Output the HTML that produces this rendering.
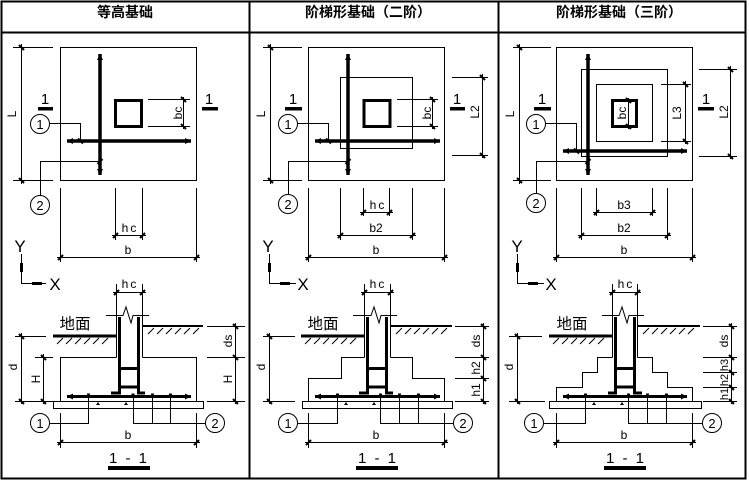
<!DOCTYPE html>
<html><head><meta charset="utf-8"><style>
html,body{margin:0;padding:0;background:#fff;}
svg{display:block;}
text{font-family:"Liberation Sans","Noto Sans CJK SC",sans-serif;fill:#000;}
.h{font-size:14px;font-weight:bold;}
.l{font-size:12px;}
.n{font-size:13px;}
.s{font-size:15px;}
</style></head><body>
<svg width="749" height="482" viewBox="0 0 749 482" xmlns="http://www.w3.org/2000/svg">
<defs>
<marker id="tk" viewBox="-4 -4 8 8" markerWidth="8" markerHeight="8" markerUnits="userSpaceOnUse" orient="auto"><path d="M-2.5,2.5 L2.5,-2.5" stroke="#000" stroke-width="2"/></marker>
<marker id="ah" viewBox="-7 -4 8 8" markerWidth="8" markerHeight="8" markerUnits="userSpaceOnUse" orient="auto-start-reverse"><path d="M0,0 L-6,-3 L-6,3 Z" fill="#000"/></marker>
</defs>
<g fill="none" stroke="#000" stroke-width="1">
<!-- frame -->
<rect x="1.5" y="1.5" width="744" height="477" stroke-width="2"/>
<line x1="1" y1="32.5" x2="746" y2="32.5" stroke-width="2"/>
<line x1="249.5" y1="1" x2="249.5" y2="479" stroke-width="2"/>
<line x1="498.5" y1="1" x2="498.5" y2="479" stroke-width="2"/>

<!-- ===== PANEL 1 ===== -->
<rect x="60.5" y="47.5" width="136" height="133"/>
<line x1="13" y1="47.5" x2="53" y2="47.5"/><line x1="13" y1="180.5" x2="53" y2="180.5"/>
<line x1="21.5" y1="44" x2="21.5" y2="184"/>
<path d="M21.5,47.5 v0.01" marker-end="url(#tk)"/><path d="M21.5,180.5 v0.01" marker-end="url(#tk)"/>
<rect x="115.5" y="100.5" width="26" height="26" stroke-width="3"/>
<line x1="148" y1="99.5" x2="190" y2="99.5"/><line x1="148" y1="126.5" x2="190" y2="126.5"/>
<line x1="183.5" y1="97" x2="183.5" y2="129"/>
<path d="M183.5,99.5 v0.01" marker-end="url(#tk)"/><path d="M183.5,126.5 v0.01" marker-end="url(#tk)"/>
<line x1="67" y1="141" x2="191" y2="141" stroke-width="3.5" marker-start="url(#ah)" marker-end="url(#ah)"/>
<line x1="100" y1="54" x2="100" y2="175" stroke-width="3.5" marker-start="url(#ah)" marker-end="url(#ah)"/>
<circle cx="40" cy="124" r="9.5"/>
<polyline points="50,123.5 80.5,123.5 80.5,142"/><path d="M80.5,141 v0.01" marker-end="url(#tk)"/>
<circle cx="40" cy="205" r="9.5"/>
<polyline points="40.5,195.5 40.5,161.5 100,161.5"/><path d="M100,161.5 h0.01" marker-end="url(#tk)"/>
<line x1="60.5" y1="188" x2="60.5" y2="262"/><line x1="196.5" y1="188" x2="196.5" y2="262"/>
<line x1="115.5" y1="188" x2="115.5" y2="240"/><line x1="142.5" y1="188" x2="142.5" y2="240"/>
<line x1="112" y1="235.5" x2="146" y2="235.5"/>
<path d="M115.5,235.5 h0.01" marker-end="url(#tk)"/><path d="M142.5,235.5 h0.01" marker-end="url(#tk)"/>
<line x1="57" y1="257.5" x2="200" y2="257.5"/>
<path d="M60.5,257.5 h0.01" marker-end="url(#tk)"/><path d="M196.5,257.5 h0.01" marker-end="url(#tk)"/>
<!-- axis -->
<line x1="21.5" y1="254" x2="21.5" y2="283.5"/><line x1="21" y1="283.5" x2="46" y2="283.5"/>
<!-- section -->
<line x1="116.5" y1="284" x2="116.5" y2="315"/><line x1="142.5" y1="284" x2="142.5" y2="315"/>
<line x1="113" y1="292.5" x2="146" y2="292.5"/>
<path d="M116.5,292.5 h0.01" marker-end="url(#tk)"/><path d="M142.5,292.5 h0.01" marker-end="url(#tk)"/>
<polyline points="106,315.5 123,315.5 126,307 131,323 133,315.5 149,315.5"/>
<line x1="116.5" y1="316" x2="116.5" y2="357.5"/><line x1="142.5" y1="316" x2="142.5" y2="357.5"/>
<path d="M111,393 H119.5 V317 M145,393 H138.5 V317 M119,368.5 H139 M119,387 H139" stroke-width="3"/>
<line x1="53" y1="336" x2="116" y2="336" stroke-width="3"/>
<path d="M57,344 l6,-6 M66,344 l6,-6 M75,344 l6,-6 M84,344 l6,-6 M93,344 l6,-6 M102,344 l6,-6"/>
<line x1="143" y1="326" x2="203" y2="326" stroke-width="2"/>
<path d="M148,334 l6,-6 M157,334 l6,-6 M166,334 l6,-6 M175,334 l6,-6 M184,334 l6,-6 M193,334 l6,-6"/>
<path d="M116.5,357.5 H60.5 V401 M142.5,357.5 H196.5 V401"/>
<rect x="53.5" y="401.5" width="150" height="7"/>
<line x1="67" y1="396.5" x2="191" y2="396.5" stroke-width="3" marker-start="url(#ah)" marker-end="url(#ah)"/>
<circle cx="40" cy="423" r="9.5"/>
<polyline points="50,423.5 88.5,423.5 88.5,397"/>
<circle cx="215" cy="423" r="9.5"/>
<path d="M205,423.5 H133.5 V397 M152.5,423.5 V397 M170.5,423.5 V397"/>
<line x1="15" y1="336.5" x2="46" y2="336.5"/><line x1="15" y1="401.5" x2="53" y2="401.5"/>
<line x1="35" y1="357.5" x2="53" y2="357.5"/>
<line x1="21.5" y1="333" x2="21.5" y2="404"/>
<path d="M21.5,336.5 v0.01" marker-end="url(#tk)"/><path d="M21.5,401.5 v0.01" marker-end="url(#tk)"/>
<line x1="43.5" y1="354" x2="43.5" y2="404"/>
<path d="M43.5,357.5 v0.01" marker-end="url(#tk)"/><path d="M43.5,401.5 v0.01" marker-end="url(#tk)"/>
<line x1="207" y1="326.5" x2="245" y2="326.5"/><line x1="207" y1="357.5" x2="245" y2="357.5"/><line x1="207" y1="401.5" x2="245" y2="401.5"/>
<line x1="235.5" y1="323" x2="235.5" y2="404"/>
<path d="M235.5,326.5 v0.01" marker-end="url(#tk)"/><path d="M235.5,357.5 v0.01" marker-end="url(#tk)"/><path d="M235.5,401.5 v0.01" marker-end="url(#tk)"/>
<line x1="60.5" y1="413" x2="60.5" y2="448"/><line x1="196.5" y1="413" x2="196.5" y2="448"/>
<line x1="57" y1="442.5" x2="200" y2="442.5"/>
<path d="M60.5,442.5 h0.01" marker-end="url(#tk)"/><path d="M196.5,442.5 h0.01" marker-end="url(#tk)"/>

<!-- ===== PANEL 2 ===== -->
<rect x="308.5" y="47.5" width="136" height="133"/>
<rect x="340.5" y="77.5" width="72" height="71"/>
<line x1="263" y1="47.5" x2="302" y2="47.5"/><line x1="263" y1="180.5" x2="302" y2="180.5"/>
<line x1="270.5" y1="44" x2="270.5" y2="184"/>
<path d="M270.5,47.5 v0.01" marker-end="url(#tk)"/><path d="M270.5,180.5 v0.01" marker-end="url(#tk)"/>
<rect x="364" y="100.5" width="26" height="26" stroke-width="3"/>
<line x1="397" y1="99.5" x2="438" y2="99.5"/><line x1="397" y1="126.5" x2="438" y2="126.5"/>
<line x1="432.5" y1="97" x2="432.5" y2="129"/>
<path d="M432.5,99.5 v0.01" marker-end="url(#tk)"/><path d="M432.5,126.5 v0.01" marker-end="url(#tk)"/>
<line x1="452" y1="77.5" x2="488" y2="77.5"/><line x1="452" y1="155.5" x2="488" y2="155.5"/>
<line x1="482.5" y1="74" x2="482.5" y2="158"/>
<path d="M482.5,77.5 v0.01" marker-end="url(#tk)"/><path d="M482.5,155.5 v0.01" marker-end="url(#tk)"/>
<line x1="315" y1="141" x2="440" y2="141" stroke-width="3.5" marker-start="url(#ah)" marker-end="url(#ah)"/>
<line x1="348" y1="54" x2="348" y2="175" stroke-width="3.5" marker-start="url(#ah)" marker-end="url(#ah)"/>
<circle cx="288" cy="124" r="9.5"/>
<polyline points="298,123.5 328.5,123.5 328.5,142"/><path d="M328.5,141 v0.01" marker-end="url(#tk)"/>
<circle cx="288" cy="204" r="9.5"/>
<polyline points="288.5,194.5 288.5,161.5 348,161.5"/><path d="M348,161.5 h0.01" marker-end="url(#tk)"/>
<line x1="308.5" y1="188" x2="308.5" y2="262"/><line x1="444.5" y1="188" x2="444.5" y2="262"/>
<line x1="340.5" y1="188" x2="340.5" y2="240"/><line x1="412.5" y1="188" x2="412.5" y2="240"/>
<line x1="363.5" y1="188" x2="363.5" y2="216"/><line x1="389.5" y1="188" x2="389.5" y2="216"/>
<line x1="360" y1="212.5" x2="393" y2="212.5"/>
<path d="M363.5,212.5 h0.01" marker-end="url(#tk)"/><path d="M389.5,212.5 h0.01" marker-end="url(#tk)"/>
<line x1="337" y1="235.5" x2="416" y2="235.5"/>
<path d="M340.5,235.5 h0.01" marker-end="url(#tk)"/><path d="M412.5,235.5 h0.01" marker-end="url(#tk)"/>
<line x1="305" y1="257.5" x2="448" y2="257.5"/>
<path d="M308.5,257.5 h0.01" marker-end="url(#tk)"/><path d="M444.5,257.5 h0.01" marker-end="url(#tk)"/>
<line x1="269.5" y1="254" x2="269.5" y2="283.5"/><line x1="269" y1="283.5" x2="296" y2="283.5"/>
<line x1="364.5" y1="284" x2="364.5" y2="315"/><line x1="390.5" y1="284" x2="390.5" y2="315"/>
<line x1="361" y1="292.5" x2="394" y2="292.5"/>
<path d="M364.5,292.5 h0.01" marker-end="url(#tk)"/><path d="M390.5,292.5 h0.01" marker-end="url(#tk)"/>
<polyline points="353,315.5 371,315.5 374,307 379,323 381,315.5 397,315.5"/>
<line x1="364.5" y1="316" x2="364.5" y2="357.5"/><line x1="390.5" y1="316" x2="390.5" y2="357.5"/>
<path d="M359,393 H367.5 V317 M393,393 H386.5 V317 M367,368.5 H387 M367,387 H387" stroke-width="3"/>
<line x1="301" y1="336" x2="364" y2="336" stroke-width="3"/>
<path d="M305,344 l6,-6 M314,344 l6,-6 M323,344 l6,-6 M332,344 l6,-6 M341,344 l6,-6 M350,344 l6,-6"/>
<line x1="391" y1="326" x2="452" y2="326" stroke-width="2"/>
<path d="M396,334 l6,-6 M405,334 l6,-6 M414,334 l6,-6 M423,334 l6,-6 M432,334 l6,-6 M441,334 l6,-6"/>
<path d="M364.5,357.5 H341.5 V378.5 H308.5 V401 M390.5,357.5 H412.5 V378.5 H444.5 V401"/>
<rect x="302.5" y="401.5" width="150" height="7"/>
<line x1="315" y1="396.5" x2="440" y2="396.5" stroke-width="3" marker-start="url(#ah)" marker-end="url(#ah)"/>
<circle cx="288" cy="423" r="9.5"/>
<polyline points="298,423.5 337.5,423.5 337.5,397"/>
<circle cx="463" cy="423" r="9.5"/>
<path d="M453,423.5 H380.5 V397 M399.5,423.5 V397 M418.5,423.5 V397"/>
<line x1="263" y1="336.5" x2="295" y2="336.5"/><line x1="263" y1="401.5" x2="295" y2="401.5"/>
<line x1="269.5" y1="333" x2="269.5" y2="404"/>
<path d="M269.5,336.5 v0.01" marker-end="url(#tk)"/><path d="M269.5,401.5 v0.01" marker-end="url(#tk)"/>
<line x1="455" y1="326.5" x2="489" y2="326.5"/><line x1="455" y1="357.5" x2="489" y2="357.5"/><line x1="455" y1="378.5" x2="489" y2="378.5"/><line x1="455" y1="401.5" x2="489" y2="401.5"/>
<line x1="483.5" y1="323" x2="483.5" y2="404"/>
<path d="M483.5,326.5 v0.01" marker-end="url(#tk)"/><path d="M483.5,357.5 v0.01" marker-end="url(#tk)"/><path d="M483.5,378.5 v0.01" marker-end="url(#tk)"/><path d="M483.5,401.5 v0.01" marker-end="url(#tk)"/>
<line x1="308.5" y1="413" x2="308.5" y2="448"/><line x1="444.5" y1="413" x2="444.5" y2="448"/>
<line x1="305" y1="442.5" x2="448" y2="442.5"/>
<path d="M308.5,442.5 h0.01" marker-end="url(#tk)"/><path d="M444.5,442.5 h0.01" marker-end="url(#tk)"/>

<!-- ===== PANEL 3 ===== -->
<rect x="556.5" y="47.5" width="136" height="133"/>
<rect x="581.5" y="69.5" width="86" height="87"/>
<rect x="596.5" y="84.5" width="56" height="57"/>
<line x1="513" y1="47.5" x2="551" y2="47.5"/><line x1="513" y1="180.5" x2="551" y2="180.5"/>
<line x1="519.5" y1="44" x2="519.5" y2="184"/>
<path d="M519.5,47.5 v0.01" marker-end="url(#tk)"/><path d="M519.5,180.5 v0.01" marker-end="url(#tk)"/>
<rect x="612.5" y="100.5" width="24" height="26" stroke-width="3"/>
<line x1="628.5" y1="98" x2="628.5" y2="129"/>
<path d="M628.5,100.5 v0.01" marker-end="url(#tk)"/><path d="M628.5,126.5 v0.01" marker-end="url(#tk)"/>
<line x1="661" y1="84.5" x2="691" y2="84.5"/><line x1="661" y1="141.5" x2="691" y2="141.5"/>
<line x1="685.5" y1="81" x2="685.5" y2="144"/>
<path d="M685.5,84.5 v0.01" marker-end="url(#tk)"/><path d="M685.5,141.5 v0.01" marker-end="url(#tk)"/>
<line x1="699" y1="69.5" x2="737" y2="69.5"/><line x1="699" y1="156.5" x2="737" y2="156.5"/>
<line x1="730.5" y1="66" x2="730.5" y2="159"/>
<path d="M730.5,69.5 v0.01" marker-end="url(#tk)"/><path d="M730.5,156.5 v0.01" marker-end="url(#tk)"/>
<line x1="563" y1="151" x2="687" y2="151" stroke-width="3.5" marker-start="url(#ah)" marker-end="url(#ah)"/>
<line x1="588" y1="54" x2="588" y2="175" stroke-width="3.5" marker-start="url(#ah)" marker-end="url(#ah)"/>
<circle cx="536" cy="124" r="9.5"/>
<polyline points="546,123.5 576.5,123.5 576.5,152"/><path d="M576.5,151 v0.01" marker-end="url(#tk)"/>
<circle cx="536" cy="203" r="9.5"/>
<polyline points="536.5,193.5 536.5,161.5 588,161.5"/><path d="M588,161.5 h0.01" marker-end="url(#tk)"/>
<line x1="556.5" y1="188" x2="556.5" y2="262"/><line x1="692.5" y1="188" x2="692.5" y2="262"/>
<line x1="581.5" y1="188" x2="581.5" y2="240"/><line x1="667.5" y1="188" x2="667.5" y2="240"/>
<line x1="596.5" y1="188" x2="596.5" y2="216"/><line x1="652.5" y1="188" x2="652.5" y2="216"/>
<line x1="593" y1="212.5" x2="656" y2="212.5"/>
<path d="M596.5,212.5 h0.01" marker-end="url(#tk)"/><path d="M652.5,212.5 h0.01" marker-end="url(#tk)"/>
<line x1="578" y1="235.5" x2="671" y2="235.5"/>
<path d="M581.5,235.5 h0.01" marker-end="url(#tk)"/><path d="M667.5,235.5 h0.01" marker-end="url(#tk)"/>
<line x1="553" y1="257.5" x2="696" y2="257.5"/>
<path d="M556.5,257.5 h0.01" marker-end="url(#tk)"/><path d="M692.5,257.5 h0.01" marker-end="url(#tk)"/>
<line x1="517.5" y1="254" x2="517.5" y2="283.5"/><line x1="517" y1="283.5" x2="544" y2="283.5"/>
<line x1="612.5" y1="284" x2="612.5" y2="315"/><line x1="637.5" y1="284" x2="637.5" y2="315"/>
<line x1="609" y1="292.5" x2="641" y2="292.5"/>
<path d="M612.5,292.5 h0.01" marker-end="url(#tk)"/><path d="M637.5,292.5 h0.01" marker-end="url(#tk)"/>
<polyline points="602,315.5 619,315.5 622,307 627,323 629,315.5 644,315.5"/>
<line x1="612.5" y1="316" x2="612.5" y2="357.5"/><line x1="637.5" y1="316" x2="637.5" y2="357.5"/>
<path d="M608,393 H615.5 V317 M642,393 H634.5 V317 M615,368.5 H635 M615,387 H635" stroke-width="3"/>
<line x1="549" y1="336" x2="612" y2="336" stroke-width="3"/>
<path d="M553,344 l6,-6 M562,344 l6,-6 M571,344 l6,-6 M580,344 l6,-6 M589,344 l6,-6 M598,344 l6,-6"/>
<line x1="638" y1="326" x2="700" y2="326" stroke-width="2"/>
<path d="M643,334 l6,-6 M652,334 l6,-6 M661,334 l6,-6 M670,334 l6,-6 M679,334 l6,-6 M688,334 l6,-6"/>
<path d="M612.5,357.5 H597.5 V372.5 H582.5 V387.5 H556.5 V401 M637.5,357.5 H652.5 V372.5 H667.5 V387.5 H692.5 V401"/>
<rect x="549.5" y="401.5" width="152" height="7"/>
<line x1="563" y1="396.5" x2="687" y2="396.5" stroke-width="3" marker-start="url(#ah)" marker-end="url(#ah)"/>
<circle cx="534" cy="423" r="9.5"/>
<polyline points="544,423.5 585.5,423.5 585.5,397"/>
<circle cx="712" cy="423" r="9.5"/>
<path d="M702,423.5 H628.5 V397 M647.5,423.5 V397 M666.5,423.5 V397"/>
<line x1="509" y1="336.5" x2="542" y2="336.5"/><line x1="509" y1="401.5" x2="545" y2="401.5"/>
<line x1="517.5" y1="333" x2="517.5" y2="404"/>
<path d="M517.5,336.5 v0.01" marker-end="url(#tk)"/><path d="M517.5,401.5 v0.01" marker-end="url(#tk)"/>
<line x1="703" y1="326.5" x2="737" y2="326.5"/><line x1="703" y1="357.5" x2="737" y2="357.5"/><line x1="703" y1="372.5" x2="737" y2="372.5"/><line x1="703" y1="387.5" x2="737" y2="387.5"/><line x1="703" y1="401.5" x2="737" y2="401.5"/>
<line x1="731.5" y1="323" x2="731.5" y2="404"/>
<path d="M731.5,326.5 v0.01" marker-end="url(#tk)"/><path d="M731.5,357.5 v0.01" marker-end="url(#tk)"/><path d="M731.5,372.5 v0.01" marker-end="url(#tk)"/><path d="M731.5,387.5 v0.01" marker-end="url(#tk)"/><path d="M731.5,401.5 v0.01" marker-end="url(#tk)"/>
<line x1="556.5" y1="413" x2="556.5" y2="448"/><line x1="692.5" y1="413" x2="692.5" y2="448"/>
<line x1="553" y1="442.5" x2="696" y2="442.5"/>
<path d="M556.5,442.5 h0.01" marker-end="url(#tk)"/><path d="M692.5,442.5 h0.01" marker-end="url(#tk)"/>
</g>

<!-- filled elements -->
<g fill="#000">
<rect x="38" y="107" width="15" height="3.5"/><rect x="202" y="107" width="16" height="3.5"/>
<rect x="285" y="107" width="17" height="3.5"/><rect x="450" y="107" width="15" height="3.5"/>
<rect x="534" y="107" width="17" height="3.5"/><rect x="698" y="107" width="16" height="3.5"/>
<rect x="20" y="263" width="3" height="9"/><rect x="32" y="282" width="10" height="3"/>
<rect x="268" y="263" width="3" height="9"/><rect x="280" y="282" width="10" height="3"/>
<rect x="516" y="263" width="3" height="9"/><rect x="528" y="282" width="10" height="3"/>
<rect x="108" y="466" width="42" height="4"/><rect x="356" y="466" width="42" height="4"/><rect x="604" y="466" width="42" height="4"/>
<rect x="87" y="393.5" width="3" height="3"/><rect x="131.5" y="393.5" width="3" height="3"/><rect x="151" y="393.5" width="3" height="3"/><rect x="169" y="393.5" width="3" height="3"/>
<rect x="336" y="393.5" width="3" height="3"/><rect x="379" y="393.5" width="3" height="3"/><rect x="398" y="393.5" width="3" height="3"/><rect x="417" y="393.5" width="3" height="3"/>
<rect x="584" y="393.5" width="3" height="3"/><rect x="627" y="393.5" width="3" height="3"/><rect x="646" y="393.5" width="3" height="3"/><rect x="665" y="393.5" width="3" height="3"/>
<path d="M96,405 l2,-3 l2,3z M124,405 l2,-3 l2,3z M344,405 l2,-3 l2,3z M372,405 l2,-3 l2,3z M592,405 l2,-3 l2,3z M620,405 l2,-3 l2,3z"/>
</g>

<!-- text -->
<text class="h" x="125" y="17" text-anchor="middle">等高基础</text>
<text class="h" x="368" y="17" text-anchor="middle">阶梯形基础（二阶）</text>
<text class="h" x="619" y="17" text-anchor="middle">阶梯形基础（三阶）</text>

<g class="s" text-anchor="middle">
<text x="45" y="104">1</text><text x="209" y="104">1</text>
<text x="293" y="104">1</text><text x="457" y="104">1</text>
<text x="542" y="104">1</text><text x="706" y="104">1</text>
<text x="129" y="463" letter-spacing="2">1 - 1</text>
<text x="378" y="463" letter-spacing="2">1 - 1</text>
<text x="626" y="463" letter-spacing="2">1 - 1</text>
<text x="75" y="329" style="font-size:15.5px">地面</text>
<text x="323" y="329" style="font-size:15.5px">地面</text>
<text x="572" y="329" style="font-size:15.5px">地面</text>
</g>
<g style="font-size:17px" text-anchor="middle">
<text x="20" y="252">Y</text><text x="55" y="290">X</text>
<text x="268" y="252">Y</text><text x="303" y="290">X</text>
<text x="517" y="252">Y</text><text x="551" y="290">X</text>
</g>
<g class="n" text-anchor="middle">
<text x="40" y="129">1</text><text x="40" y="210">2</text><text x="40" y="428">1</text><text x="215" y="428">2</text>
<text x="288" y="129">1</text><text x="288" y="209">2</text><text x="288" y="428">1</text><text x="463" y="428">2</text>
<text x="536" y="129">1</text><text x="536" y="208">2</text><text x="534" y="428">1</text><text x="712" y="428">2</text>
</g>
<g class="l" text-anchor="middle">
<text x="130" y="232" letter-spacing="2">hc</text>
<text x="128" y="254">b</text>
<text x="130" y="288" letter-spacing="2">hc</text>
<text x="128" y="439">b</text>
<text x="378" y="209" letter-spacing="2">hc</text>
<text x="376" y="232">b2</text>
<text x="376" y="254">b</text>
<text x="378" y="288" letter-spacing="2">hc</text>
<text x="376" y="439">b</text>
<text x="624" y="209">b3</text>
<text x="624" y="232">b2</text>
<text x="624" y="254">b</text>
<text x="626" y="288" letter-spacing="2">hc</text>
<text x="624" y="439">b</text>
<text transform="translate(12,114) rotate(-90)" y="4">L</text>
<text transform="translate(178,113) rotate(-90)" y="4">bc</text>
<text transform="translate(13,367) rotate(-90)" y="4">d</text>
<text transform="translate(36,379) rotate(-90)" y="4">H</text>
<text transform="translate(228,341) rotate(-90)" y="4">ds</text>
<text transform="translate(228,379) rotate(-90)" y="4">H</text>
<text transform="translate(261,114) rotate(-90)" y="4">L</text>
<text transform="translate(427,113) rotate(-90)" y="4">bc</text>
<text transform="translate(475,112) rotate(-90)" y="4">L2</text>
<text transform="translate(261,367) rotate(-90)" y="4">d</text>
<text transform="translate(476,341) rotate(-90)" y="4">ds</text>
<text transform="translate(476,368) rotate(-90)" y="4">h2</text>
<text transform="translate(476,390) rotate(-90)" y="4">h1</text>
<text transform="translate(510,114) rotate(-90)" y="4">L</text>
<text transform="translate(622,113) rotate(-90)" y="4">bc</text>
<text transform="translate(677,113) rotate(-90)" y="4">L3</text>
<text transform="translate(724,112) rotate(-90)" y="4">L2</text>
<text transform="translate(509,367) rotate(-90)" y="4">d</text>
<text transform="translate(724,341) rotate(-90)" y="4">ds</text>
<text transform="translate(724,365) rotate(-90)" y="4" style="font-size:11px">h3</text>
<text transform="translate(724,380) rotate(-90)" y="4" style="font-size:11px">h2</text>
<text transform="translate(724,394) rotate(-90)" y="4" style="font-size:11px">h1</text>
</g>
</svg>
</body></html>
